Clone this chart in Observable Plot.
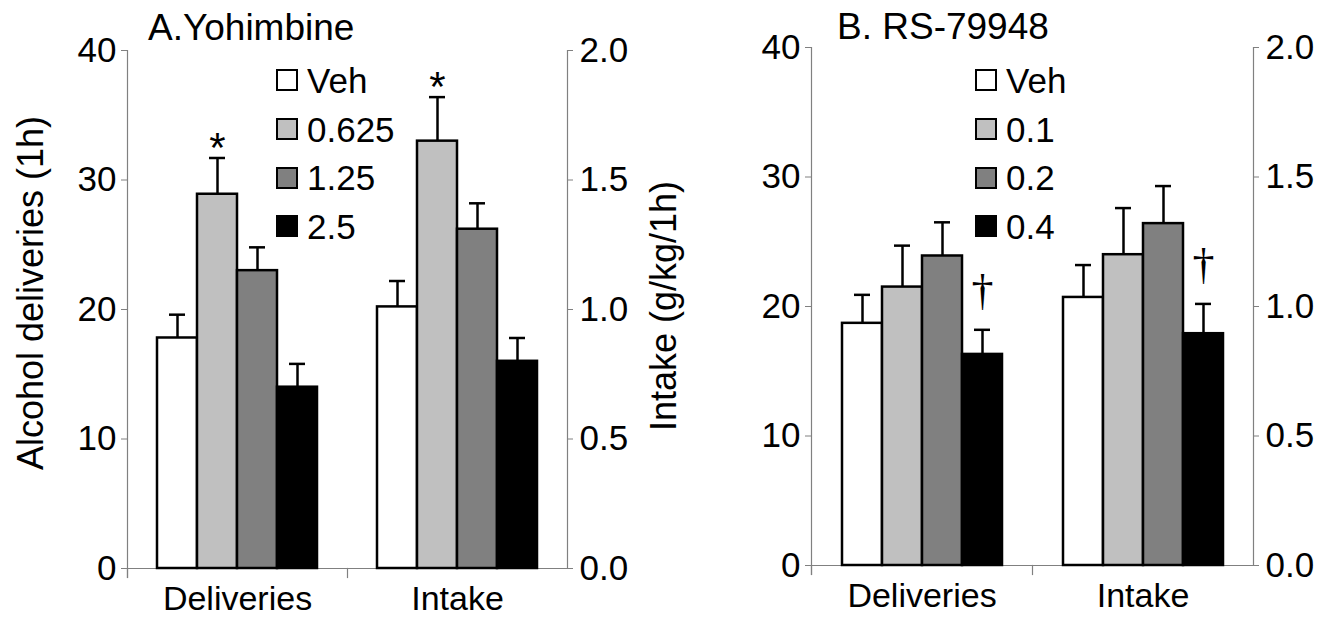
<!DOCTYPE html>
<html>
<head>
<meta charset="utf-8">
<script src="https://cdn.jsdelivr.net/npm/d3@7"></script>
<script src="https://cdn.jsdelivr.net/npm/@observablehq/plot@0.6"></script>
<style>
  html, body { margin: 0; padding: 0; background: #fff; }
  #wrap { position: relative; width: 1317px; height: 617px; overflow: hidden; font-family: "Liberation Sans", Arial, sans-serif; color: #000; }
  #wrap svg { position: absolute; top: 0; }
  .lbl { position: absolute; white-space: nowrap; line-height: 1; }
  .rot { transform: translate(-50%, -50%) rotate(-90deg); }
  .legend { position: absolute; }
  .row { display: flex; align-items: center; height: 48.7px; }
  .sw { width: 22px; height: 22px; box-sizing: border-box; border: 2px solid #000; }
  .row span.t { margin-left: 9px; font-size: 35px; line-height: 1; }
</style>
</head>
<body>
<div id="wrap"></div>
<script>
// ---------- data ----------
const groups = ["Deliveries", "Intake"];
const dosesA = ["Veh", "0.625", "1.25", "2.5"];
const dosesB = ["Veh", "0.1", "0.2", "0.4"];
const fills = ["#ffffff", "#c0c0c0", "#808080", "#000000"];

// Panel A: Yohimbine
const deliveriesA = [17.8, 28.9, 23.0, 14.0];     // deliveries (1h)
const deliveriesSemA = [1.8, 2.8, 1.8, 1.8];
const intakeA = [1.01, 1.65, 1.31, 0.80];          // g/kg/1h
const intakeSemA = [0.10, 0.17, 0.10, 0.09];

// Panel B: RS-79948
const deliveriesB = [18.7, 21.5, 23.9, 16.3];
const deliveriesSemB = [2.2, 3.2, 2.6, 1.9];
const intakeB = [1.035, 1.20, 1.32, 0.895];
const intakeSemB = [0.125, 0.18, 0.145, 0.115];

const leftTicks = [0, 10, 20, 30, 40];
const rightTickLabels = ["0.0", "0.5", "1.0", "1.5", "2.0"];
const rightMax = 2.0, leftMax = 40;           // right axis 0–2.0 spans the same height as 0–40

const annotationsA = [
  {group: "Deliveries", dose: "0.625", text: "*"},
  {group: "Intake", dose: "0.625", text: "*"}
];
const annotationsB = [
  {group: "Deliveries", dose: "0.4", text: "†"},
  {group: "Intake", dose: "0.4", text: "†"}
];

const titleA = "A.Yohimbine";
const titleB = "B. RS-79948";
const yLabelLeft = "Alcohol deliveries (1h)";
const yLabelRight = "Intake (g/kg/1h)";

// ---------- build ----------
const FONT = '"Liberation Sans", Arial, sans-serif';
const ratio = leftMax / rightMax;

function rows(doses, del, delSe, intake, intakeSe) {
  const out = [];
  doses.forEach((dose, i) => {
    out.push({group: "Deliveries", dose, mean: del[i], top: del[i] + delSe[i]});
    out.push({group: "Intake", dose, mean: intake[i] * ratio, top: (intake[i] + intakeSe[i]) * ratio});
  });
  return out;
}

function panel({doses, data, ann, annFont, annDy, annSize, width, marginLeft, marginRight, marginTop, marginBottom}) {
  const annData = ann.map(a => ({...a, top: data.find(d => d.group === a.group && d.dose === a.dose).top}));
  const plotH = 617 - marginTop - marginBottom;
  return Plot.plot({
    width, height: 617, marginLeft, marginRight, marginTop, marginBottom,
    style: {fontFamily: FONT, fontSize: "34px", background: "transparent", overflow: "visible", color: "#000"},
    fx: {domain: groups, padding: 0, axis: null, label: null},
    x: {domain: doses, paddingInner: 0, paddingOuter: 0.7, axis: null, label: null},
    y: {domain: [0, leftMax], axis: null, label: null},
    color: {domain: doses, range: fills},
    marks: [
      Plot.frame({anchor: "left", facetAnchor: "left", stroke: "#808080", strokeWidth: 1.2, insetBottom: -9}),
      Plot.frame({anchor: "right", facetAnchor: "right", stroke: "#808080", strokeWidth: 1.2}),
      Plot.frame({anchor: "left", stroke: "#808080", strokeWidth: 1.2, insetTop: plotH, insetBottom: -9}),
      Plot.ruleY([0], {stroke: "#808080", strokeWidth: 1.2}),
      Plot.axisY({anchor: "left", ticks: leftTicks, tickSize: 6, tickPadding: 5, fontSize: 35, stroke: "#808080", label: null}),
      Plot.axisY({anchor: "right", ticks: leftTicks, tickFormat: d => rightTickLabels[leftTicks.indexOf(d)],
                  tickSize: 5, tickPadding: 7, fontSize: 35, stroke: "#808080", label: null}),
      Plot.axisFx({anchor: "bottom", tickSize: 0, tickPadding: 17, fontSize: 34, label: null}),
      Plot.ruleX(data, {fx: "group", x: "dose", y1: "mean", y2: "top", stroke: "#000", strokeWidth: 2.5}),
      Plot.tickY(data, {fx: "group", x: "dose", y: "top", stroke: "#000", strokeWidth: 2.5, insetLeft: 12, insetRight: 12}),
      Plot.barY(data, {fx: "group", x: "dose", y: "mean", fill: "dose", stroke: "#000", strokeWidth: 2.5}),
      Plot.text(annData, {fx: "group", x: "dose", y: "top", text: "text", lineAnchor: "bottom",
                          dy: annDy, fontSize: annSize, fontFamily: annFont, fill: "#000"})
    ]
  });
}

const wrap = document.getElementById("wrap");

const svgA = panel({
  doses: dosesA, data: rows(dosesA, deliveriesA, deliveriesSemA, intakeA, intakeSemA),
  ann: annotationsA, annFont: FONT, annDy: 4, annSize: 42,
  width: 690, marginLeft: 126, marginRight: 123, marginTop: 50, marginBottom: 49
});
svgA.style.left = "0px";
wrap.appendChild(svgA);

const svgB = panel({
  doses: dosesB, data: rows(dosesB, deliveriesB, deliveriesSemB, intakeB, intakeSemB),
  ann: annotationsB, annFont: '"Liberation Serif", "Times New Roman", serif', annDy: -25, annSize: 44,
  width: 627, marginLeft: 121, marginRight: 64, marginTop: 47, marginBottom: 52
});
svgB.style.left = "690px";
wrap.appendChild(svgB);

function addText(text, left, baseline, size, cls) {
  const d = document.createElement("div");
  d.className = "lbl" + (cls ? " " + cls : "");
  d.textContent = text;
  d.style.fontSize = size + "px";
  d.style.left = left + "px";
  d.style.top = (baseline - 0.8465 * size) + "px";
  wrap.appendChild(d);
  return d;
}
function addRotated(text, cx, cy, size) {
  const d = document.createElement("div");
  d.className = "lbl rot";
  d.textContent = text;
  d.style.fontSize = size + "px";
  d.style.left = cx + "px";
  d.style.top = cy + "px";
  wrap.appendChild(d);
}
addText(titleA, 148, 40, 37);
addText(titleB, 837, 39, 37);
addRotated(yLabelLeft, 31, 293, 36);
addRotated(yLabelRight, 664, 306, 36);

function legend(doses, left, top) {
  const lg = document.createElement("div");
  lg.className = "legend";
  lg.style.left = left + "px";
  lg.style.top = top + "px";
  doses.forEach((dose, i) => {
    const r = document.createElement("div");
    r.className = "row";
    const sw = document.createElement("div");
    sw.className = "sw";
    sw.style.background = fills[i];
    const t = document.createElement("span");
    t.className = "t";
    t.textContent = dose;
    r.appendChild(sw); r.appendChild(t);
    lg.appendChild(r);
  });
  wrap.appendChild(lg);
}
legend(dosesA, 276, 56);
legend(dosesB, 975, 56);
</script>
</body>
</html>
